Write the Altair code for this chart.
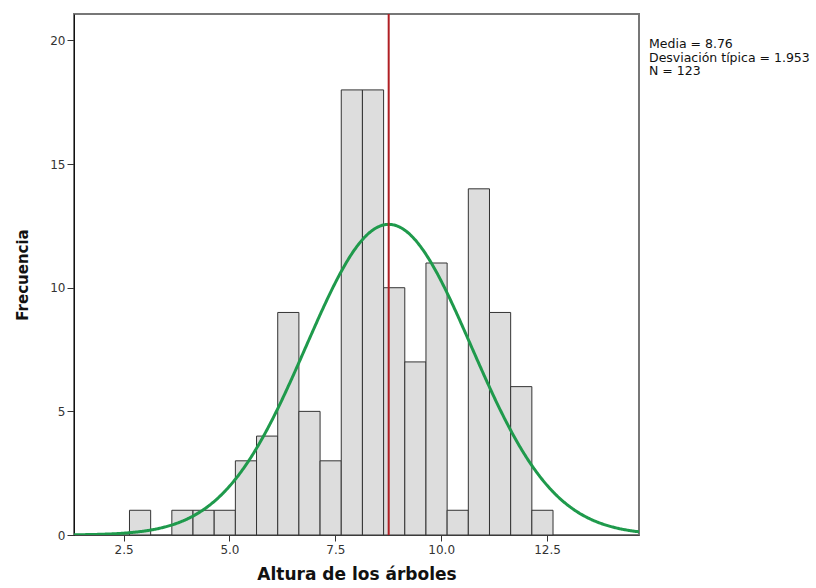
import altair as alt
import pandas as pd

bin_start = [2.64, 3.14, 3.64, 4.14, 4.64, 5.14, 5.64, 6.14, 6.64, 7.14,
             7.64, 8.14, 8.64, 9.14, 9.64, 10.14, 10.64, 11.14, 11.64, 12.14]
bin_end = [3.14, 3.64, 4.14, 4.64, 5.14, 5.64, 6.14, 6.64, 7.14, 7.64,
           8.14, 8.64, 9.14, 9.64, 10.14, 10.64, 11.14, 11.64, 12.14, 12.64]
counts = [1, 0, 1, 1, 1, 3, 4, 9, 5, 3, 18, 18, 10, 7, 11, 1, 14, 9, 6, 1]

mean = 8.76
sd = 1.953
n = 123
bin_width = 0.5
x_ticks = [2.5, 5.0, 7.5, 10.0, 12.5]
y_ticks = [0, 5, 10, 15, 20]
stats_lines = ["Media = 8.76", "Desviación típica = 1.953", "N = 123"]

hist = pd.DataFrame({"start": bin_start, "end": bin_end, "count": counts})
hist = hist[hist["count"] > 0]

xs = alt.Scale(domain=[1.33, 14.67], nice=False, zero=False)
ys = alt.Scale(domain=[0, 21.07], nice=False)

xaxis = alt.Axis(values=x_ticks, format=".1f", title="Altura de los árboles", grid=False,
                 tickSize=6, tickColor="#333", domainColor="#444", labelFont="DejaVu Sans",
                 labelFontSize=12, labelColor="#333", labelPadding=3,
                 titleFont="DejaVu Sans", titleFontSize=17, titleFontWeight="bold",
                 titleColor="#111", titlePadding=11)
yaxis = alt.Axis(values=y_ticks, title="Frecuencia", grid=False, tickSize=7, tickColor="#333",
                 domainColor="#111", labelFont="DejaVu Sans", labelFontSize=12,
                 labelColor="#333", labelPadding=2, titleFont="DejaVu Sans", titleFontSize=15,
                 titleFontWeight="bold", titleColor="#111", titlePadding=19)

bars = alt.Chart(hist).mark_rect(fill="#dddddd", stroke="#333333", strokeWidth=1).encode(
    x=alt.X("start:Q", scale=xs, axis=xaxis),
    x2="end:Q",
    y=alt.Y("count:Q", scale=ys, axis=yaxis),
    y2=alt.datum(0),
)

curve = alt.Chart(alt.sequence(1.33, 14.68, 0.02, as_="x")).transform_calculate(
    dens=f"{n * bin_width} * exp(-0.5 * pow((datum.x - {mean}) / {sd}, 2)) / ({sd} * sqrt(2 * PI))"
).mark_line(color="#1f9a4c", strokeWidth=3, clip=True).encode(
    x=alt.X("x:Q", scale=xs), y=alt.Y("dens:Q", scale=ys)
)

mline = alt.Chart(pd.DataFrame({"m": [mean]})).mark_rule(color="#b01f24", strokeWidth=2).encode(
    x=alt.X("m:Q", scale=xs)
)

txt = alt.Chart(pd.DataFrame({"t": [stats_lines]})).mark_text(
    align="left", baseline="alphabetic", font="DejaVu Sans", fontSize=12.5, lineHeight=13.6,
    color="#111"
).encode(text="t", x=alt.value(575), y=alt.value(34))

chart = alt.layer(bars, curve, mline, txt).properties(
    width=565, height=521,
    autosize=alt.AutoSizeParams(type="none"),
    padding={"left": 74, "top": 14, "right": 177, "bottom": 53},
    background="white",
).configure_view(stroke="#777777", strokeWidth=2)

chart.save("out.html", embed_options={"renderer": "svg", "actions": False})
